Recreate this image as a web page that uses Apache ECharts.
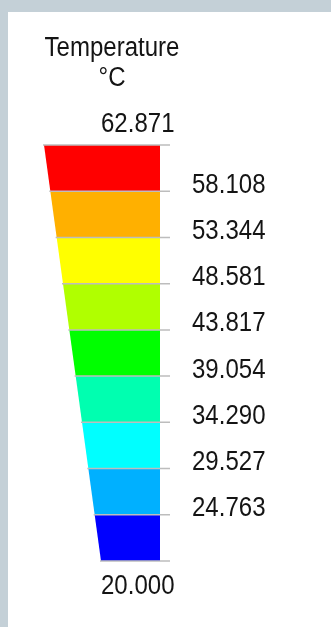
<!DOCTYPE html>
<html><head><meta charset="utf-8">
<script src="https://cdn.jsdelivr.net/npm/echarts@6/dist/echarts.min.js"></script>
<style>html,body{margin:0;padding:0;background:#c4d0d7;}#c{width:331px;height:627px;}</style>
</head><body><div id="c"></div>
<script>
// ---- data ----
const levels = [20.000, 24.763, 29.527, 34.290, 39.054, 43.817, 48.581, 53.344, 58.108, 62.871];
const levelLabels = ['20.000','24.763','29.527','34.290','39.054','43.817','48.581','53.344','58.108','62.871'];
const bandColors = ['#0000ff','#00b0ff','#00ffff','#00ffb0','#00ff00','#b0ff00','#ffff00','#ffb000','#ff0000'];
const titleText = 'Temperature';
const unitText = '°C';

// ---- build ----
const vmin = levels[0], vmax = levels[levels.length - 1];
const FONT = '"Liberation Sans", Arial, sans-serif';
const SX = 0.89;
const taper = 57 / 116;
const leftFrac = v => taper * (vmax - v) / (vmax - vmin);
const bands = [];
for (let i = 0; i < levels.length - 1; i++) bands.push([levels[i], levels[i + 1]]);
const lineData = levels.map((v, i) => [v, i]);

const chart = echarts.init(document.getElementById('c'), null, {renderer: 'canvas'});
chart.setOption({
  backgroundColor: '#c4d0d7',
  animation: false,
  graphic: [
    {type: 'rect', left: 8, top: 12, shape: {width: 323, height: 615}, style: {fill: '#ffffff'}, z: -10},
    {type: 'text', x: 112, y: 49, scaleX: SX, style: {text: titleText, font: '27px ' + FONT, fill: '#141414', align: 'center', verticalAlign: 'middle'}},
    {type: 'text', x: 112, y: 79, scaleX: SX, style: {text: unitText, font: '27px ' + FONT, fill: '#141414', align: 'center', verticalAlign: 'middle'}}
  ],
  grid: {left: 44, top: 145, width: 116, height: 416},
  xAxis: {type: 'value', min: 0, max: 1, show: false},
  yAxis: {type: 'value', min: vmin, max: vmax, show: false},
  series: [
    {
      type: 'custom',
      data: bands,
      encode: {y: [0, 1]},
      clip: false,
      renderItem(params, api) {
        const lo = api.value(0), hi = api.value(1);
        const pts = [
          api.coord([leftFrac(hi), hi]),
          api.coord([1, hi]),
          api.coord([1, lo]),
          api.coord([leftFrac(lo), lo])
        ];
        return {type: 'polygon', shape: {points: pts}, style: {fill: bandColors[params.dataIndex]}};
      }
    },
    {
      type: 'custom',
      data: lineData,
      encode: {y: 0},
      clip: false,
      z: 5,
      renderItem(params, api) {
        const v = api.value(0);
        const idx = params.dataIndex;
        const a = api.coord([leftFrac(v), v]);
        const b = api.coord([1, v]);
        const children = [{
          type: 'line',
          shape: {x1: a[0] - 1, y1: a[1], x2: b[0] + 10, y2: b[1]},
          style: {stroke: '#bdbdbd', lineWidth: 1.5}
        }];
        let tx, ty;
        if (idx === levels.length - 1) { tx = 101; ty = a[1] - 20; }
        else if (idx === 0) { tx = 101; ty = a[1] + 26; }
        else { tx = b[0] + 32; ty = b[1] - 6; }
        children.push({
          type: 'text',
          x: tx, y: ty, scaleX: SX,
          style: {text: levelLabels[idx], font: '27px ' + FONT, fill: '#141414', align: 'left', verticalAlign: 'middle'}
        });
        return {type: 'group', children};
      }
    }
  ]
});
</script></body></html>
